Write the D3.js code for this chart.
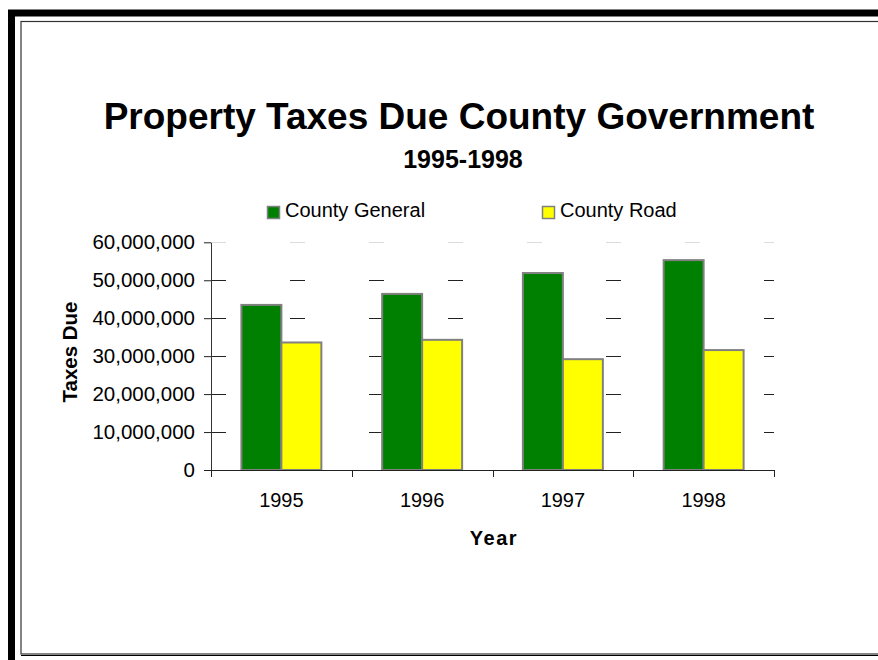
<!DOCTYPE html>
<html>
<head>
<meta charset="utf-8">
<script src="https://cdn.jsdelivr.net/npm/d3@7"></script>
<style>
  body { margin: 0; background: #fff; }
  text { font-family: "Liberation Sans", Arial, sans-serif; }
</style>
</head>
<body>
<div id="chart"></div>
<script>
// ---- data ----
const years = ['1995', '1996', '1997', '1998'];
const seriesNames = ['County General', 'County Road'];
const countyGeneral = [43500000, 46400000, 51900000, 55300000];
const countyRoad = [33600000, 34300000, 29200000, 31600000];
const yTicks = [0, 10000000, 20000000, 30000000, 40000000, 50000000, 60000000];

const seriesColors = { 'County General': '#008000', 'County Road': '#ffff00' };

const W = 878, H = 660;
const svg = d3.select('#chart').append('svg')
  .attr('width', W)
  .attr('height', H)
  .style('display', 'block');

// frame (outer thick black, inner thin line) - runs off the right edge
svg.append('rect')
  .attr('x', 11.5).attr('y', 13)
  .attr('width', 1000).attr('height', 700)
  .attr('fill', 'none').attr('stroke', '#000').attr('stroke-width', 7);
svg.append('rect')
  .attr('x', 21).attr('y', 21.5)
  .attr('width', 1000).attr('height', 632.5)
  .attr('fill', 'none').attr('stroke', '#333').attr('stroke-width', 1.2);
svg.append('line')
  .attr('x1', 21).attr('x2', W).attr('y1', 655.5).attr('y2', 655.5)
  .attr('stroke', '#000').attr('stroke-width', 1);

// titles
svg.append('text')
  .attr('x', 459).attr('y', 129)
  .attr('text-anchor', 'middle')
  .attr('font-size', '37px').attr('font-weight', 'bold')
  .text('Property Taxes Due County Government');
svg.append('text')
  .attr('x', 463).attr('y', 168)
  .attr('text-anchor', 'middle')
  .attr('font-size', '25px').attr('font-weight', 'bold')
  .text('1995-1998');

// scales
const x0 = d3.scaleBand().domain(years).range([211, 774]).paddingInner(0).paddingOuter(0);
const x1 = d3.scaleBand().domain(seriesNames).range([0, x0.bandwidth()]).paddingInner(0).paddingOuter(0.76);
const y = d3.scaleLinear().domain([0, 60000000]).range([470, 242.3]);

// dashed gridlines (bars cover part of them)
svg.append('g').selectAll('line')
  .data(yTicks.slice(1))
  .join('line')
  .attr('x1', 211).attr('x2', 774)
  .attr('y1', d => Math.round(y(d)) + 0.5).attr('y2', d => Math.round(y(d)) + 0.5)
  .attr('stroke', d => d === 60000000 ? '#dcdcdc' : '#222')
  .attr('stroke-width', 1)
  .attr('stroke-dasharray', '15 64');

// bars
const data = years.map((yr, i) => ({
  year: yr,
  values: [
    { name: 'County General', value: countyGeneral[i] },
    { name: 'County Road', value: countyRoad[i] }
  ]
}));

const groups = svg.append('g').selectAll('g')
  .data(data)
  .join('g')
  .attr('transform', d => `translate(${x0(d.year)},0)`);

groups.selectAll('rect')
  .data(d => d.values)
  .join('rect')
  .attr('x', d => x1(d.name))
  .attr('y', d => y(d.value))
  .attr('width', x1.bandwidth())
  .attr('height', d => y(0) - y(d.value))
  .attr('fill', d => seriesColors[d.name])
  .attr('stroke', '#808080')
  .attr('stroke-width', 2);

// y axis
const yAxis = svg.append('g')
  .attr('transform', 'translate(211,0)')
  .call(d3.axisLeft(y).tickValues(yTicks).tickFormat(d3.format(',')).tickSize(7).tickSizeOuter(0).tickPadding(9));
yAxis.select('.domain').attr('stroke', '#333');
yAxis.selectAll('.tick line').attr('stroke', '#222');
yAxis.selectAll('text')
  .attr('font-size', '20.5px')
  .attr('fill', '#000')
  .style('font-family', '"Liberation Sans", Arial, sans-serif');

// x axis: labels at band centres, ticks at band boundaries
const xAxis = svg.append('g')
  .attr('transform', 'translate(0,470)')
  .call(d3.axisBottom(x0).tickSize(0).tickPadding(23).tickSizeOuter(0));
xAxis.select('.domain').remove();
xAxis.selectAll('text')
  .attr('font-size', '20px')
  .attr('fill', '#000')
  .style('font-family', '"Liberation Sans", Arial, sans-serif');

svg.append('line')
  .attr('x1', 211).attr('x2', 774)
  .attr('y1', 470.5).attr('y2', 470.5)
  .attr('stroke', '#222');

const bounds = years.map(d => x0(d)).concat([x0(years[years.length - 1]) + x0.bandwidth()]);
svg.append('g').selectAll('line')
  .data(bounds)
  .join('line')
  .attr('x1', d => Math.round(d) + 0.5).attr('x2', d => Math.round(d) + 0.5)
  .attr('y1', 470).attr('y2', 477)
  .attr('stroke', '#222');

// axis titles
svg.append('text')
  .attr('x', 494).attr('y', 545)
  .attr('text-anchor', 'middle')
  .attr('font-size', '20px').attr('font-weight', 'bold')
  .attr('letter-spacing', '1.5px')
  .text('Year');
svg.append('text')
  .attr('transform', 'translate(77,352) rotate(-90)')
  .attr('text-anchor', 'middle')
  .attr('font-size', '20.5px').attr('font-weight', 'bold')
  .text('Taxes Due');

// legend
const legendX = [267, 542];
const legend = svg.append('g').selectAll('g')
  .data(seriesNames)
  .join('g')
  .attr('transform', (d, i) => `translate(${legendX[i]},206)`);
legend.append('rect')
  .attr('x', 0.5).attr('y', 0.5)
  .attr('width', 12).attr('height', 12)
  .attr('fill', d => seriesColors[d])
  .attr('stroke', '#808080').attr('stroke-width', 1.5);
legend.append('text')
  .attr('x', 18).attr('y', 11)
  .attr('font-size', '20px')
  .text(d => d);
</script>
</body>
</html>
